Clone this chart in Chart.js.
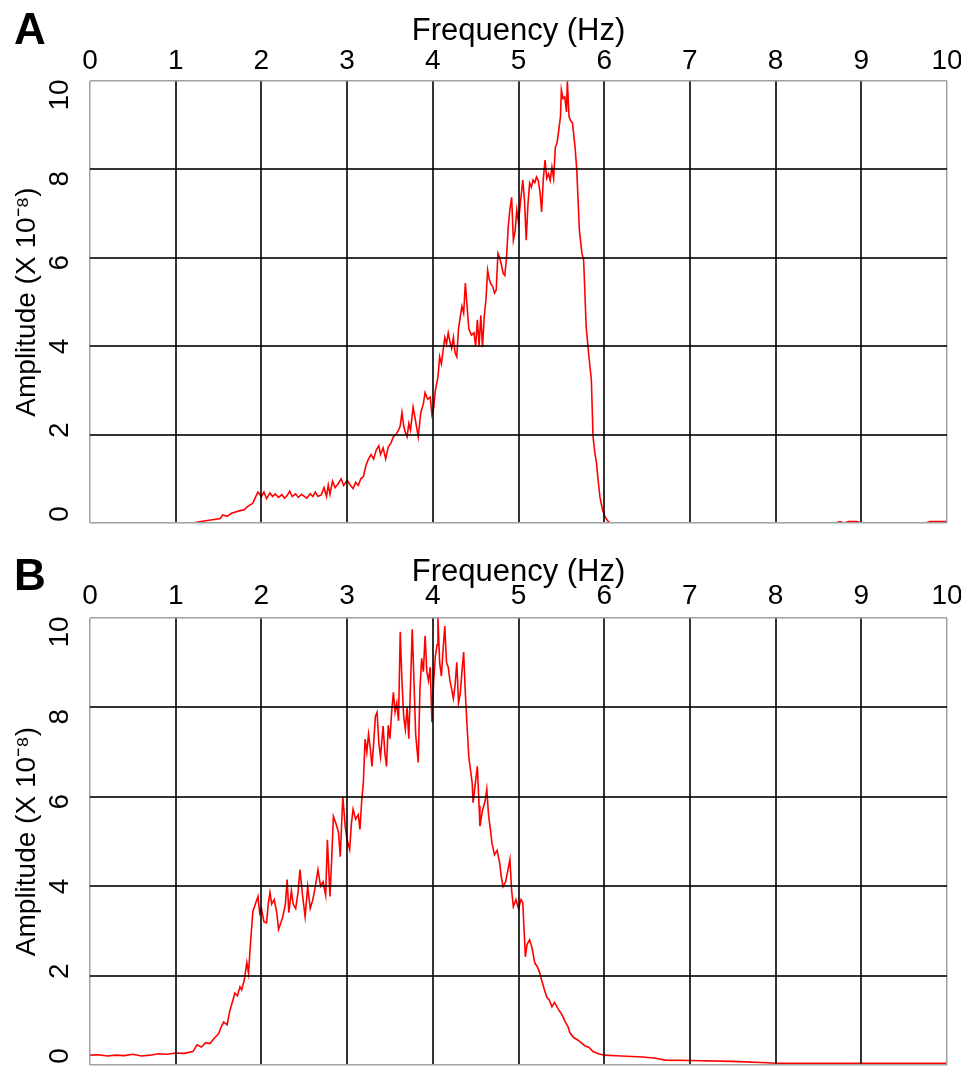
<!DOCTYPE html>
<html>
<head>
<meta charset="utf-8">
<script src="https://cdn.jsdelivr.net/npm/chart.js@4/dist/chart.umd.min.js"></script>
<style>
  html, body { margin: 0; padding: 0; background: #fff; }
  #page { position: relative; width: 961px; height: 1072px; overflow: hidden;
          font-family: "Liberation Sans", Arial, sans-serif; }
  .panel { position: absolute; left: 0; width: 961px; }
  #panelA { top: 0; height: 537px; }
  #panelB { top: 537px; height: 535px; }
  .tag { position: absolute; left: 14px; font-weight: bold; font-size: 44px; line-height: 1; color: #000; }
</style>
</head>
<body>
<div id="page">
  <div class="panel" id="panelA"><canvas id="chartA" width="961" height="537"></canvas></div>
  <div class="panel" id="panelB"><canvas id="chartB" width="961" height="535"></canvas></div>
  <div class="tag" style="top:7px">A</div>
  <div class="tag" style="top:553px">B</div>
</div>
<script>
// Frequency axis ticks (Hz) and amplitude ticks (x 10^-8)
const freqTicks = [0, 1, 2, 3, 4, 5, 6, 7, 8, 9, 10];
const ampTicks = [0, 2, 4, 6, 8, 10];

// Spectrum A
const freqA = [
  0, 1.2, 1.26, 1.35, 1.45, 1.52, 1.55, 1.6, 1.65, 1.7,
  1.75, 1.8, 1.83, 1.86, 1.9, 1.93, 1.96, 1.98, 2.0, 2.03,
  2.06, 2.1, 2.13, 2.16, 2.2, 2.24, 2.27, 2.3, 2.33, 2.36,
  2.4, 2.43, 2.47, 2.5, 2.53, 2.57, 2.6, 2.63, 2.66, 2.7,
  2.73, 2.76, 2.78, 2.8, 2.83, 2.86, 2.9, 2.93, 2.96, 3.0,
  3.04, 3.07, 3.1, 3.13, 3.16, 3.19, 3.22, 3.25, 3.28, 3.31,
  3.34, 3.37, 3.39, 3.42, 3.45, 3.48, 3.51, 3.54, 3.57, 3.6,
  3.62, 3.64, 3.66, 3.68, 3.7, 3.72, 3.74, 3.77, 3.8, 3.83,
  3.86, 3.89, 3.91, 3.94, 3.97, 3.99, 4.01, 4.03, 4.06, 4.08,
  4.1, 4.12, 4.14, 4.16, 4.18, 4.2, 4.22, 4.24, 4.26, 4.28,
  4.3, 4.32, 4.34, 4.36, 4.38, 4.4, 4.42, 4.45, 4.48, 4.5,
  4.52, 4.54, 4.56, 4.58, 4.6, 4.62, 4.64, 4.66, 4.68, 4.7,
  4.72, 4.74, 4.76, 4.78, 4.8, 4.82, 4.84, 4.86, 4.88, 4.9,
  4.92, 4.94, 4.96, 4.98, 5.0, 5.02, 5.05, 5.07, 5.09, 5.11,
  5.13, 5.15, 5.17, 5.19, 5.21, 5.23, 5.25, 5.27, 5.29, 5.31,
  5.33, 5.35, 5.37, 5.39, 5.41, 5.43, 5.45, 5.47, 5.49, 5.5,
  5.52, 5.54, 5.56, 5.57, 5.59, 5.61, 5.63, 5.66, 5.68, 5.71,
  5.74, 5.76, 5.79, 5.82, 5.85, 5.87, 5.89, 5.91, 5.93, 5.95,
  5.98, 6.01, 6.04, 6.07, 8.7, 8.75, 8.8, 8.85, 8.95, 9.0,
  9.75, 9.8, 10
];
const ampA = [
  0, 0, 0.02, 0.05, 0.08, 0.1, 0.18, 0.15, 0.22, 0.25,
  0.28, 0.3, 0.36, 0.4, 0.45, 0.58, 0.7, 0.65, 0.6, 0.7,
  0.55, 0.68, 0.6, 0.66, 0.58, 0.64, 0.56, 0.62, 0.72, 0.6,
  0.66, 0.58, 0.65, 0.6, 0.56, 0.66, 0.6, 0.7, 0.6, 0.64,
  0.8, 0.6, 0.86, 0.65, 0.95, 0.8, 0.9, 1.0, 0.85, 0.97,
  0.85, 0.78, 0.92, 0.85, 1.0, 1.05, 1.3, 1.45, 1.55, 1.45,
  1.65, 1.75, 1.55, 1.7, 1.45, 1.72, 1.8, 1.95, 2.0, 2.1,
  2.2, 2.5, 2.2, 2.05, 1.95, 2.25, 2.1, 2.62, 2.3, 1.95,
  2.5, 2.7, 2.95, 2.8, 2.85, 2.45, 2.6, 3.0, 3.3, 3.76,
  3.6, 3.9, 4.2, 4.05, 4.3, 4.1, 3.95, 4.2, 3.85, 3.76,
  4.4, 4.66, 4.9, 4.75, 5.43, 4.9, 4.4, 4.25, 4.3, 4.0,
  4.6, 4.0, 4.7, 3.98, 4.66, 5.05, 5.72, 5.5, 5.4, 5.35,
  5.2, 5.27, 6.1, 6.0, 5.85, 5.65, 5.6, 6.0, 6.7, 7.1,
  7.37, 6.4, 6.6, 7.08, 6.8, 7.2, 7.76, 7.3, 6.4, 7.2,
  7.69, 7.6, 7.76, 7.7, 7.83, 7.75, 7.5, 7.04, 7.8, 8.21,
  7.8, 7.9, 7.75, 8.05, 7.8, 8.5, 8.6, 8.89, 9.2, 9.8,
  9.6, 9.64, 9.3, 10.0, 9.19, 9.1, 9.05, 8.5, 7.99, 6.63,
  6.1, 5.95, 4.43, 3.8, 3.24, 1.95, 1.6, 1.36, 0.95, 0.59,
  0.3, 0.14, 0.05, 0, 0, 0.03, 0, 0.03, 0.03, 0,
  0, 0.03, 0.03
];

// Spectrum B
const freqB = [
  0, 0.1, 0.2, 0.3, 0.4, 0.5, 0.6, 0.7, 0.8, 0.9,
  1.0, 1.1, 1.2, 1.25, 1.3, 1.35, 1.4, 1.45, 1.5, 1.53,
  1.56, 1.6, 1.63, 1.66, 1.69, 1.72, 1.75, 1.77, 1.8, 1.83,
  1.85, 1.87, 1.9, 1.93, 1.96, 1.98, 2.0, 2.03, 2.06, 2.08,
  2.1, 2.12, 2.15, 2.18, 2.2, 2.23, 2.25, 2.28, 2.3, 2.32,
  2.35, 2.37, 2.4, 2.43, 2.45, 2.48, 2.51, 2.54, 2.57, 2.6,
  2.63, 2.66, 2.69, 2.72, 2.75, 2.77, 2.8, 2.82, 2.84, 2.87,
  2.9, 2.92, 2.95, 2.98, 3.0, 3.03, 3.05, 3.07, 3.1, 3.13,
  3.15, 3.17, 3.19, 3.21, 3.23, 3.25, 3.27, 3.29, 3.31, 3.33,
  3.35, 3.37, 3.39, 3.42, 3.44, 3.46, 3.48, 3.5, 3.52, 3.54,
  3.56, 3.58, 3.6, 3.62, 3.64, 3.66, 3.68, 3.7, 3.72, 3.74,
  3.76, 3.78, 3.8, 3.83, 3.85, 3.87, 3.89, 3.91, 3.93, 3.95,
  3.97, 3.99, 4.01, 4.03, 4.05, 4.06, 4.08, 4.1, 4.12, 4.14,
  4.16, 4.18, 4.2, 4.22, 4.24, 4.26, 4.28, 4.3, 4.32, 4.34,
  4.36, 4.38, 4.4, 4.42, 4.44, 4.46, 4.47, 4.49, 4.52, 4.54,
  4.55, 4.58, 4.61, 4.63, 4.65, 4.67, 4.69, 4.72, 4.75, 4.78,
  4.8, 4.82, 4.85, 4.88, 4.9, 4.92, 4.94, 4.97, 5.0, 5.03,
  5.05, 5.08, 5.1, 5.13, 5.16, 5.19, 5.22, 5.25, 5.27, 5.3,
  5.33, 5.36, 5.39, 5.42, 5.45, 5.48, 5.5, 5.52, 5.55, 5.58,
  5.6, 5.64, 5.69, 5.73, 5.78, 5.82, 5.87, 5.93, 6.0, 6.2,
  6.45, 6.6, 6.71, 7.0, 7.5, 7.9, 8.0, 10
];
const ampB = [
  0.22, 0.23, 0.2, 0.22, 0.21, 0.24, 0.2, 0.22, 0.25, 0.24,
  0.27, 0.26, 0.3, 0.45, 0.4, 0.5, 0.48, 0.6, 0.7, 0.85,
  0.96, 0.9, 1.2, 1.4, 1.61, 1.55, 1.75, 1.68, 1.9, 2.29,
  2.05, 2.65, 3.43, 3.6, 3.77, 3.4, 3.5, 3.2, 3.18, 3.6,
  3.86, 3.6, 3.7, 3.4, 3.03, 3.2, 3.32, 3.6, 4.15, 3.41,
  3.9, 3.6, 3.5, 3.9, 4.37, 3.8, 3.32, 3.99, 3.5, 3.7,
  4.0, 4.37, 4.0, 4.1, 3.8, 5.04, 3.77, 4.6, 5.56, 5.4,
  5.2, 4.66, 6.0, 5.3, 5.04, 4.82, 5.4, 5.72, 5.5, 5.6,
  5.27, 5.9, 6.34, 7.29, 7.0, 7.4, 7.1, 6.68, 7.2, 7.8,
  7.89, 7.2, 6.9, 7.58, 7.0, 6.68, 7.6, 7.3, 7.9, 8.34,
  7.9, 8.1, 7.7, 9.69, 8.6, 7.8, 7.51, 8.0, 7.3, 8.5,
  9.75, 8.6, 7.4, 6.77, 8.4, 9.1, 8.8, 9.6, 8.8, 8.6,
  8.9, 7.67, 8.6, 9.15, 9.4, 10.0, 9.0, 8.7, 9.3, 9.82,
  9.0, 8.9, 8.6, 8.41, 8.2, 8.5, 9.01, 8.1, 8.3, 8.8,
  9.24, 8.3, 7.58, 6.9, 6.6, 6.3, 5.87, 6.2, 6.68, 5.8,
  5.34, 5.7, 5.9, 6.17, 5.6, 5.3, 4.97, 4.7, 4.8, 4.53,
  4.2, 3.99, 4.1, 4.4, 4.6, 3.9, 3.54, 3.7, 3.5, 3.7,
  3.63, 2.42, 2.7, 2.8, 2.6, 2.28, 2.2, 2.05, 1.9, 1.7,
  1.52, 1.45, 1.3, 1.4, 1.3, 1.2, 1.15, 1.07, 0.95, 0.85,
  0.72, 0.62, 0.56, 0.5, 0.42, 0.4, 0.3, 0.25, 0.22, 0.2,
  0.18, 0.15, 0.11, 0.1, 0.08, 0.05, 0.04, 0.04
];

const FAMILY = '"Liberation Sans", Arial, sans-serif';
const TICK_FONT = { family: FAMILY, size: 28 };
const XTITLE_FONT = { family: FAMILY, size: 31 };
const YTITLE_FONT = { family: FAMILY, size: 28 };
const edgeColor = '#a0a0a0';
const gridColor = 'rgba(0,0,0,0.8)';

function gridFor(lo, hi) {
  const isEdge = c => c.tick && (c.tick.value === lo || c.tick.value === hi);
  return {
    z: 1,
    drawTicks: false,
    color: c => isEdge(c) ? edgeColor : gridColor,
    lineWidth: c => isEdge(c) ? 1.5 : 2
  };
}

// Pixel insets of the first/last amplitude labels from the plot edges
const LABEL_INSET_BOTTOM = 9;
const LABEL_INSET_TOP = 14;

function makeChart(id, freq, amp, opts) {
  const points = freq.map((f, i) => ({ x: f, y: amp[i] }));
  return new Chart(document.getElementById(id), {
    type: 'line',
    data: {
      datasets: [{
        data: points,
        yAxisID: 'y',
        borderColor: '#ff0000',
        borderWidth: 1.6,
        pointRadius: 0,
        tension: 0,
        fill: false
      }]
    },
    options: {
      responsive: false,
      animation: false,
      devicePixelRatio: 1,
      plugins: { legend: { display: false }, tooltip: { enabled: false } },
      layout: { padding: { left: 0, right: 14, top: 0, bottom: opts.bottom } },
      scales: {
        x: {
          type: 'linear',
          position: 'top',
          min: 0, max: 10,
          afterBuildTicks: s => { s.ticks = freqTicks.map(v => ({ value: v })); },
          afterFit: s => { s.height = 81; s.paddingLeft = 0; s.paddingRight = 0; },
          border: { display: false },
          grid: gridFor(0, 10),
          ticks: { font: TICK_FONT, color: '#000', padding: opts.tickPad, maxRotation: 0, autoSkip: false },
          title: { display: true, text: 'Frequency (Hz)', font: XTITLE_FONT, color: '#000',
                   padding: { top: opts.titlePad, bottom: 0 } }
        },
        // amplitude axis: carries the grid and the data
        y: {
          type: 'linear',
          position: 'left',
          min: 0, max: 10,
          afterBuildTicks: s => { s.ticks = ampTicks.map(v => ({ value: v })); },
          afterFit: s => { s.width = 0; s.paddingTop = 0; s.paddingBottom = 0; },
          border: { display: false },
          grid: gridFor(0, 10),
          ticks: { display: false },
          title: { display: false }
        },
        // amplitude labels: same values, labels drawn slightly inside the plot ends
        yLabels: {
          type: 'linear',
          position: 'left',
          bounds: 'data',
          afterDataLimits: s => {
            const h = s.chart.chartArea ? (s.chart.chartArea.bottom - s.chart.chartArea.top) : opts.plotH;
            const per = 10 / (h - LABEL_INSET_BOTTOM - LABEL_INSET_TOP);
            s.min = -LABEL_INSET_BOTTOM * per;
            s.max = 10 + LABEL_INSET_TOP * per;
          },
          afterBuildTicks: s => { s.ticks = ampTicks.map(v => ({ value: v })); },
          afterFit: s => { s.width = 90; s.paddingTop = 0; s.paddingBottom = 0; },
          border: { display: false },
          grid: { display: false, drawTicks: false },
          ticks: { font: TICK_FONT, color: '#000', minRotation: 90, maxRotation: 90,
                   crossAlign: 'center', padding: 14, autoSkip: false },
          title: { display: true, text: 'Amplitude (X 10\u207B\u2078)', font: YTITLE_FONT, color: '#000',
                   padding: { top: 10, bottom: 0 } }
        }
      }
    }
  });
}

makeChart('chartA', freqA, ampA, { bottom: 14, tickPad: 3, titlePad: 13, plotH: 442 });
makeChart('chartB', freqB, ampB, { bottom: 7, tickPad: 5, titlePad: 17, plotH: 447 });
</script>
</body>
</html>
